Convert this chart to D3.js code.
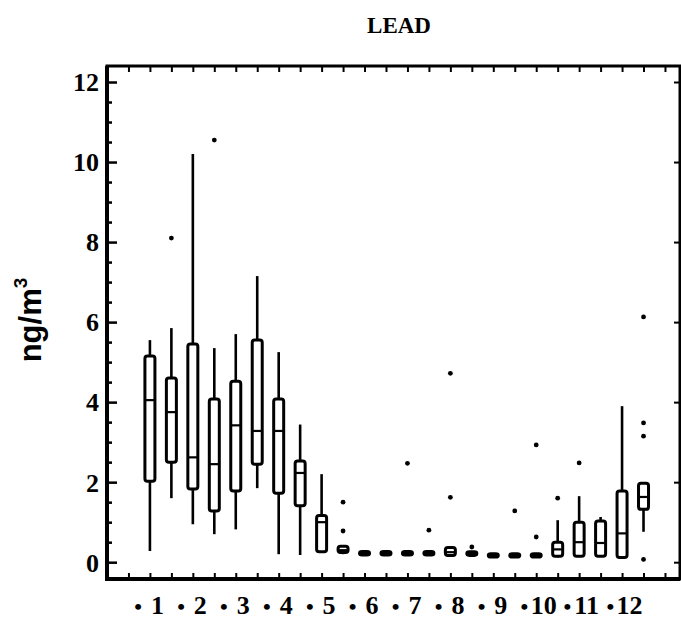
<!DOCTYPE html>
<html>
<head>
<meta charset="utf-8">
<script src="https://cdn.jsdelivr.net/npm/d3@7"></script>
<style>
  body { margin: 0; background: #fff; }
  svg { display: block; }
  .num { font-family: "Liberation Serif", "Times New Roman", serif; font-weight: bold; fill: #000; }
</style>
</head>
<body>
<svg id="chart" width="681" height="627"></svg>
<script>
// months shown on the x axis (two boxes per month)
var months = ["1", "2", "3", "4", "5", "6", "7", "8", "9", "10", "11", "12"];

// box statistics, one entry per box (ng/m3)
var lowWhisker  = [0.28, 1.6, 0.95, 0.7, 0.82, 1.85, 0.2, 0.18, 0.23, 0.2, 0.16, 0.16, 0.16, 0.16, 0.15, 0.15, 0.12, 0.12, 0.12, 0.12, 0.13, 0.13, 0.1, 0.76];
var q1          = [2.02, 2.5, 1.83, 1.28, 1.78, 2.45, 1.72, 1.41, 0.26, 0.24, 0.18, 0.18, 0.18, 0.18, 0.17, 0.17, 0.13, 0.13, 0.13, 0.15, 0.15, 0.15, 0.12, 1.32];
var median      = [4.05, 3.75, 2.62, 2.45, 3.42, 3.28, 3.28, 2.23, 1.0, 0.3, 0.22, 0.22, 0.22, 0.22, 0.25, 0.21, 0.17, 0.17, 0.17, 0.32, 0.5, 0.48, 0.72, 1.63];
var q3          = [5.15, 4.6, 5.45, 4.08, 4.52, 5.55, 4.08, 2.53, 1.17, 0.4, 0.27, 0.27, 0.27, 0.27, 0.37, 0.26, 0.21, 0.21, 0.21, 0.5, 1.0, 1.03, 1.78, 1.97];
var highWhisker = [5.55, 5.85, 10.2, 5.35, 5.7, 7.15, 5.25, 3.44, 2.2, 0.4, 0.27, 0.27, 0.27, 0.27, 0.37, 0.26, 0.21, 0.21, 0.21, 1.05, 1.65, 1.13, 3.9, 1.97];
var outliers    = [[], [8.1], [], [10.55], [], [], [], [], [], [1.5, 0.78], [], [], [2.47], [0.8], [4.72, 1.62], [0.38], [], [1.28], [2.93, 0.63], [1.6], [2.48], [], [], [6.13, 3.48, 3.15, 0.07]];

var yMajor = [0, 2, 4, 6, 8, 10, 12];

var svg = d3.select("#chart");

var pLeft = 107, pRight = 680, pTop = 66, pBottom = 579;

var x = d3.scaleLinear().domain([-1, 25.7]).range([pLeft, pRight]);
var y = d3.scaleLinear().domain([-0.42, 12.4]).range([pBottom, pTop]);

var boxes = lowWhisker.map(function(d, i) {
  return { pos: i + 1, lo: d, q1: q1[i], med: median[i], q3: q3[i], hi: highWhisker[i], out: outliers[i] };
});

// title
svg.append("text")
   .attr("class", "num")
   .attr("x", 399)
   .attr("y", 33)
   .attr("text-anchor", "middle")
   .style("font-size", "23px")
   .text("LEAD");

// y axis label
svg.append("text")
   .attr("transform", "translate(41,320) rotate(-90)")
   .attr("text-anchor", "middle")
   .style("font-family", "'Liberation Sans', Arial, sans-serif")
   .style("font-weight", "bold")
   .style("font-size", "31px")
   .html("ng/m<tspan dy='-14' font-size='19px'>3</tspan>");

// left axis: major ticks with labels, minor ticks without
var yAxis = d3.axisLeft(y).tickValues(yMajor).tickSize(-10).tickPadding(8).tickFormat(d3.format("d"));
var gy = svg.append("g").attr("transform", "translate(" + pLeft + ",0)").call(yAxis);
gy.select(".domain").remove();
gy.selectAll("line").attr("stroke", "#000").attr("stroke-width", 2.5);
gy.selectAll("text").attr("class", "num").style("font-size", "26px").attr("dy", "0.34em");

var minorVals = d3.range(0, 12.01, 0.5).filter(function(v) { return v % 2 !== 0; });
var gyMinor = svg.append("g").attr("transform", "translate(" + pLeft + ",0)")
   .call(d3.axisLeft(y).tickValues(minorVals).tickSize(-5).tickFormat(""));
gyMinor.select(".domain").remove();
gyMinor.selectAll("line").attr("stroke", "#000").attr("stroke-width", 2.5);

// right axis: major ticks pointing inward
var gr = svg.append("g").attr("transform", "translate(" + pRight + ",0)")
   .call(d3.axisRight(y).tickValues(yMajor).tickSize(-6).tickFormat(""));
gr.select(".domain").remove();
gr.selectAll("line").attr("stroke", "#000").attr("stroke-width", 2);

// bottom and top ticks at every box slot
var slots = d3.range(0, 26);
var gb = svg.append("g").attr("transform", "translate(0," + pBottom + ")")
   .call(d3.axisBottom(x).tickValues(slots).tickSize(-6).tickFormat(""));
gb.select(".domain").remove();
gb.selectAll("line").attr("stroke", "#000").attr("stroke-width", 2);

var gt = svg.append("g").attr("transform", "translate(0," + pTop + ")")
   .call(d3.axisTop(x).tickValues(slots).tickSize(-6).tickFormat(""));
gt.select(".domain").remove();
gt.selectAll("line").attr("stroke", "#000").attr("stroke-width", 2);

// frame (left and bottom drawn heavier, as in the print)
svg.append("rect")
   .attr("x", pLeft)
   .attr("y", pTop)
   .attr("width", pRight - pLeft)
   .attr("height", pBottom - pTop)
   .attr("fill", "none")
   .attr("stroke", "#000")
   .attr("stroke-width", 3);
svg.append("path")
   .attr("d", "M" + pLeft + "," + pTop + "V" + pBottom + "H" + pRight)
   .attr("fill", "none")
   .attr("stroke", "#000")
   .attr("stroke-width", 4);

// month labels: a bullet then the number
var lab = svg.append("g").attr("class", "xlabels");
lab.selectAll(".bullet")
   .data(months)
   .enter()
   .append("text")
   .attr("class", "num bullet")
   .attr("x", function(d, i) { return x(2 * (i + 1) - 1.55); })
   .attr("y", 614)
   .attr("text-anchor", "middle")
   .style("font-size", "22px")
   .text("\u2022");
lab.selectAll(".mlabel")
   .data(months)
   .enter()
   .append("text")
   .attr("class", "num mlabel")
   .attr("x", function(d, i) { return x(2 * (i + 1) - 0.65); })
   .attr("y", 614)
   .attr("text-anchor", "middle")
   .style("font-size", "26px")
   .text(function(d) { return d; });

// boxes
var bw = 10;
var g = svg.append("g").selectAll(".box")
   .data(boxes)
   .enter()
   .append("g")
   .attr("class", "box");

g.append("line")
 .attr("x1", function(d) { return x(d.pos); })
 .attr("x2", function(d) { return x(d.pos); })
 .attr("y1", function(d) { return y(d.lo); })
 .attr("y2", function(d) { return y(d.hi); })
 .attr("stroke", "#000")
 .attr("stroke-width", 2.6);

g.append("rect")
 .attr("x", function(d) { return x(d.pos) - bw / 2; })
 .attr("y", function(d) { return y(d.q3); })
 .attr("width", bw)
 .attr("height", function(d) { return Math.max(y(d.q1) - y(d.q3), 1); })
 .attr("rx", 2.5)
 .attr("fill", "#fff")
 .attr("stroke", "#000")
 .attr("stroke-width", 3);

g.append("line")
 .attr("x1", function(d) { return x(d.pos) - bw / 2; })
 .attr("x2", function(d) { return x(d.pos) + bw / 2; })
 .attr("y1", function(d) { return y(d.med); })
 .attr("y2", function(d) { return y(d.med); })
 .attr("stroke", "#000")
 .attr("stroke-width", 2.2);

g.selectAll(".out")
 .data(function(d) { return d.out.map(function(v) { return { pos: d.pos, v: v }; }); })
 .enter()
 .append("circle")
 .attr("class", "out")
 .attr("cx", function(d) { return x(d.pos); })
 .attr("cy", function(d) { return y(d.v); })
 .attr("r", 2.4)
 .attr("fill", "#000");
</script>
</body>
</html>
